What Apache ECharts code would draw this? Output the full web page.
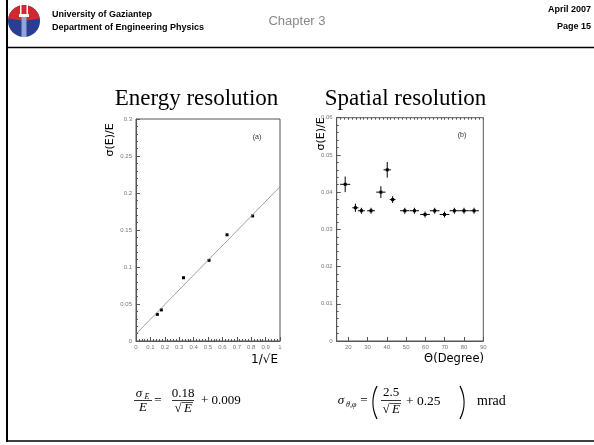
<!DOCTYPE html>
<html><head><meta charset="utf-8">
<script src="https://cdn.jsdelivr.net/npm/echarts@6/dist/echarts.min.js"></script>
<style>html,body{margin:0;padding:0;background:#fff}#c{width:594px;height:445px}</style>
</head><body><div id="c"></div>
<script>
// ---- (a) Energy resolution ----
const energyX = [0.148, 0.176, 0.33, 0.507, 0.632, 0.81];
const energyY = [0.036, 0.042, 0.0855, 0.109, 0.1435, 0.169];
const energyYErr = [0.0012, 0.0012, 0.0012, 0.0012, 0.0012, 0.0012];
const fitX = [0, 1];
const fitY = [0.0095, 0.2085];
// ---- (b) Spatial resolution ----
const angleX = [18.4, 23.7, 26.8, 31.8, 36.9, 40.2, 43.0, 49.3, 54.3, 59.8, 64.8, 69.9, 75.0, 80.0, 85.2];
const angleY = [0.0421, 0.0358, 0.035, 0.035, 0.040, 0.046, 0.038, 0.035, 0.035, 0.034, 0.035, 0.034, 0.035, 0.035, 0.035];
const angleXErr = [2.6, 1.6, 1.8, 2.0, 2.4, 1.9, 1.5, 2.4, 2.4, 2.5, 2.5, 2.5, 2.5, 2.5, 2.5];
const angleYErr = [0.0021, 0.0011, 0.0008, 0.0008, 0.0016, 0.0021, 0.0009, 0.0008, 0.0008, 0.0008, 0.0008, 0.0008, 0.0008, 0.0008, 0.0008];
const angleTicks = [20, 30, 40, 50, 60, 70, 80, 90];

const chart = echarts.init(document.getElementById('c'));
const energyData = energyX.map((x, i) => [x, energyY[i], 0, energyYErr[i]]);
const angleData = angleX.map((x, i) => [x, angleY[i], angleXErr[i], angleYErr[i]]);
const fitData = fitX.map((x, i) => [x, fitY[i]]);

function errRender(params, api) {
  const x = api.value(0), y = api.value(1), ex = api.value(2), ey = api.value(3);
  const c = api.coord([x, y]);
  const st = {stroke: '#000', lineWidth: 1};
  const ch = [];
  if (ex > 0) {
    const l = api.coord([x - ex, y]), r = api.coord([x + ex, y]);
    ch.push({type: 'line', shape: {x1: l[0], y1: l[1], x2: r[0], y2: r[1]}, style: st});
  }
  if (ey > 0) {
    const t = api.coord([x, y + ey]), b = api.coord([x, y - ey]);
    ch.push({type: 'line', shape: {x1: t[0], y1: t[1], x2: b[0], y2: b[1]}, style: st});
  }
  ch.push({type: 'rect', shape: {x: c[0] - 1.5, y: c[1] - 1.5, width: 3, height: 3}, style: {fill: '#000'}});
  return {type: 'group', children: ch};
}

const tickLbl = {fontSize: 6, color: '#777', fontFamily: 'Liberation Sans'};
const axLine = {show: true, lineStyle: {color: '#555', width: 1}};
const fmt = v => String(+v.toFixed(3));

const serif = 'Liberation Serif';
function T(x, y, text, size, extra) {
  return {type: 'text', x: x, y: y, style: Object.assign({text: text, fontSize: size, fontFamily: serif, fill: '#000', align: 'center', verticalAlign: 'middle'}, extra || {})};
}
function L(x1, y1, x2, y2, w, col) {
  return {type: 'line', shape: {x1, y1, x2, y2}, style: {stroke: col || '#000', lineWidth: w || 1}};
}
function paren(xEdge, yTop, yBot, left) {
  const h = (yBot - yTop) / 2, s = 4;
  const R = (h * h + s * s) / (2 * s);
  const a = Math.asin(h / R);
  const cy = (yTop + yBot) / 2;
  return left
    ? {type: 'arc', shape: {cx: xEdge + R, cy: cy, r: R, startAngle: Math.PI - a, endAngle: Math.PI + a, clockwise: true}, style: {stroke: '#000', lineWidth: 1.3, fill: null}}
    : {type: 'arc', shape: {cx: xEdge - R, cy: cy, r: R, startAngle: -a, endAngle: a, clockwise: true}, style: {stroke: '#000', lineWidth: 1.3, fill: null}};
}

const graphics = [
  // slide frame
  L(7, 0, 7, 442, 2),
  L(7, 441, 594, 441, 1.5),
  L(7, 47.5, 594, 47.5, 1.5),
  // logo
  {type: 'circle', shape: {cx: 24, cy: 21, r: 16}, style: {fill: '#2b3c94'}},
  {type: 'sector', shape: {cx: 24, cy: 21, r: 16, startAngle: Math.PI * 1.05, endAngle: Math.PI * 1.95}, style: {fill: '#cf2a2f'}},
  {type: 'rect', shape: {x: 19, y: 14, width: 10, height: 3}, style: {fill: '#fff'}},
  {type: 'rect', shape: {x: 21.5, y: 17, width: 5, height: 20}, style: {fill: '#8fa6d8'}},
  {type: 'rect', shape: {x: 20, y: 4, width: 1.5, height: 10}, style: {fill: '#fff'}},
  {type: 'rect', shape: {x: 26.5, y: 4, width: 1.5, height: 10}, style: {fill: '#fff'}},
  // header text
  {type: 'text', x: 52, y: 15, style: {text: 'University of Gaziantep', fontSize: 9, fontWeight: 'bold', fontFamily: 'Liberation Sans', fill: '#000', verticalAlign: 'middle'}},
  {type: 'text', x: 52, y: 28, style: {text: 'Department of Engineering Physics', fontSize: 9, fontWeight: 'bold', fontFamily: 'Liberation Sans', fill: '#000', verticalAlign: 'middle'}},
  {type: 'text', x: 297, y: 21, style: {text: 'Chapter 3', fontSize: 13, fontFamily: 'Liberation Sans', fill: '#888', align: 'center', verticalAlign: 'middle'}},
  {type: 'text', x: 591, y: 10, style: {text: 'April 2007', fontSize: 9, fontWeight: 'bold', fontFamily: 'Liberation Sans', fill: '#000', align: 'right', verticalAlign: 'middle'}},
  {type: 'text', x: 591, y: 27, style: {text: 'Page 15', fontSize: 9, fontWeight: 'bold', fontFamily: 'Liberation Sans', fill: '#000', align: 'right', verticalAlign: 'middle'}},
  // titles
  T(196.5, 99, 'Energy resolution', 23),
  T(405.5, 99, 'Spatial resolution', 23),
  // axis names
  {type: 'text', x: 110, y: 140, rotation: Math.PI / 2, style: {text: 'σ(E)/E', fontSize: 11, fontFamily: 'DejaVu Sans', fill: '#000', align: 'center', verticalAlign: 'middle'}},
  {type: 'text', x: 321, y: 134, rotation: Math.PI / 2, style: {text: 'σ(E)/E', fontSize: 11, fontFamily: 'DejaVu Sans', fill: '#000', align: 'center', verticalAlign: 'middle'}},
  {type: 'text', x: 278, y: 360, style: {text: '1/√E', fontSize: 12, fontFamily: 'DejaVu Sans', fill: '#000', align: 'right', verticalAlign: 'middle'}},
  {type: 'text', x: 484, y: 359, style: {text: 'Θ(Degree)', fontSize: 11.5, fontFamily: 'DejaVu Sans', fill: '#000', align: 'right', verticalAlign: 'middle'}},
  {type: 'text', x: 257, y: 137, style: {text: '(a)', fontSize: 7, fontFamily: 'Liberation Sans', fill: '#333', align: 'center', verticalAlign: 'middle'}},
  {type: 'text', x: 462, y: 135, style: {text: '(b)', fontSize: 7, fontFamily: 'Liberation Sans', fill: '#333', align: 'center', verticalAlign: 'middle'}},
  // formula (a)
  T(139, 394, 'σ', 13, {fontStyle: 'italic'}),
  T(147, 397, 'E', 8, {fontStyle: 'italic'}),
  L(134, 400.5, 152, 400.5, 0.8),
  T(143, 408, 'E', 13, {fontStyle: 'italic'}),
  T(158, 401, '=', 13),
  T(183, 394, '0.18', 13),
  L(172, 400.5, 194, 400.5, 0.8),
  T(178, 409, '√', 13),
  L(182, 402.5, 193, 402.5, 0.7),
  T(188, 409, 'E', 13, {fontStyle: 'italic'}),
  T(201, 401, '+ 0.009', 13, {align: 'left'}),
  // formula (b)
  T(341, 401, 'σ', 13, {fontStyle: 'italic'}),
  T(346, 405, 'θ,φ', 8, {fontStyle: 'italic', align: 'left'}),
  T(364, 401, '=', 13),
  paren(373, 386, 419, true),
  T(391, 393, '2.5', 13),
  L(381, 400.5, 401, 400.5, 0.8),
  T(386, 410, '√', 13),
  L(390, 403.5, 401, 403.5, 0.7),
  T(396, 410, 'E', 13, {fontStyle: 'italic'}),
  T(406, 401, '+ 0.25', 13.5, {align: 'left'}),
  paren(464, 386, 419, false),
  T(477, 401, 'mrad', 14, {align: 'left'})
];

chart.setOption({
  animation: false,
  backgroundColor: '#fff',
  grid: [
    {left: 136, top: 119, width: 144, height: 222, show: true, borderColor: '#555', borderWidth: 1},
    {left: 336.7, top: 117.7, width: 146.6, height: 223.3, show: true, borderColor: '#555', borderWidth: 1}
  ],
  xAxis: [
    {type: 'value', gridIndex: 0, min: 0, max: 1, interval: 0.1, axisLine: axLine,
     axisTick: {inside: true, length: 4, lineStyle: {color: '#555'}},
     minorTick: {show: true, splitNumber: 5, length: 2, lineStyle: {color: '#555'}},
     splitLine: {show: false}, axisLabel: Object.assign({margin: 3, formatter: fmt}, tickLbl)},
    {type: 'value', gridIndex: 1, min: 14, max: 90, axisLine: axLine,
     axisTick: {inside: true, length: 4, customValues: angleTicks, lineStyle: {color: '#555'}},
     splitLine: {show: false}, axisLabel: Object.assign({margin: 3, customValues: angleTicks}, tickLbl)},
    {type: 'value', gridIndex: 1, min: 14, max: 90, interval: 2, axisLine: {show: false},
     axisTick: {inside: true, length: 2, lineStyle: {color: '#555'}},
     splitLine: {show: false}, axisLabel: {show: false}}
  ],
  yAxis: [
    {type: 'value', gridIndex: 0, min: 0, max: 0.3, interval: 0.05, axisLine: axLine,
     axisTick: {inside: true, length: 4, lineStyle: {color: '#555'}},
     minorTick: {show: true, splitNumber: 5, length: 2, lineStyle: {color: '#555'}},
     splitLine: {show: false}, axisLabel: Object.assign({margin: 4, formatter: fmt}, tickLbl)},
    {type: 'value', gridIndex: 1, min: 0, max: 0.06, interval: 0.01, axisLine: axLine,
     axisTick: {inside: true, length: 4, lineStyle: {color: '#555'}},
     minorTick: {show: true, splitNumber: 5, length: 2, lineStyle: {color: '#555'}},
     splitLine: {show: false}, axisLabel: Object.assign({margin: 4, formatter: fmt}, tickLbl)}
  ],
  series: [
    {type: 'line', xAxisIndex: 0, yAxisIndex: 0, data: fitData, symbol: 'none',
     lineStyle: {color: '#888', width: 0.8}, silent: true},
    {type: 'custom', xAxisIndex: 0, yAxisIndex: 0, data: energyData, renderItem: errRender},
    {type: 'custom', xAxisIndex: 1, yAxisIndex: 1, data: angleData, renderItem: errRender}
  ],
  graphic: graphics
});
</script>
</body></html>
